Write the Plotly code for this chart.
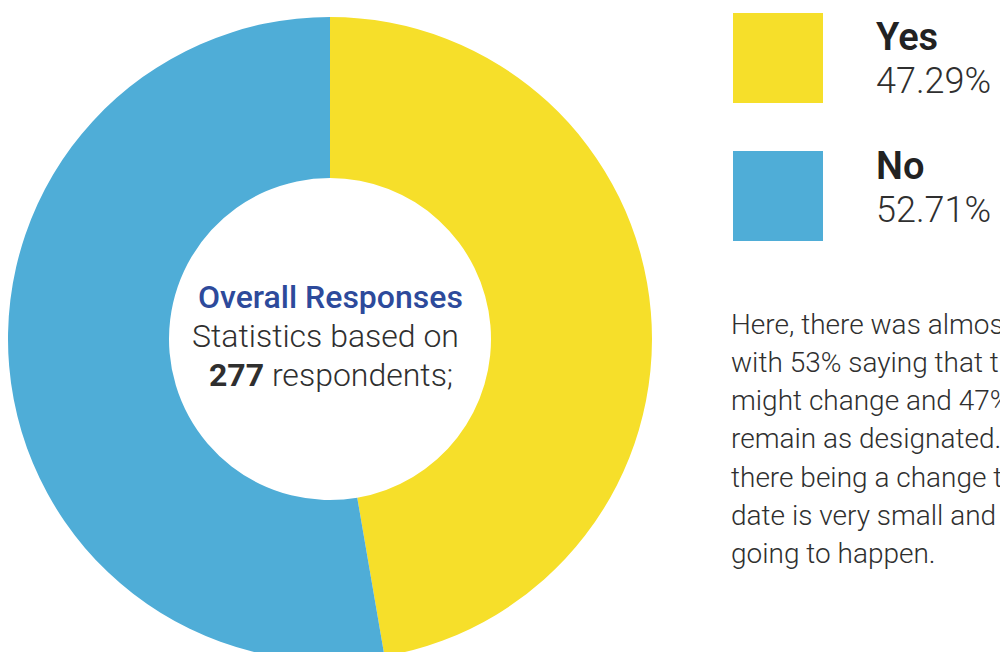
import plotly.graph_objects as go

# Survey answers
labels = ["Yes", "No"]
counts = [131, 146]
colors = ["#F6DF2A", "#4FADD7"]

center_title = "Overall Responses"
center_sub = "Statistics based on"
center_tail = "respondents;"

paragraph_lines = [
    "Here, there was almost an even split,",
    "with 53% saying that the current date",
    "might change and 47% saying it will",
    "remain as designated. The chance of",
    "there being a change to the current",
    "date is very small and it is unlikely",
    "going to happen.",
]

total = sum(counts)
shares = [c / total * 100 for c in counts]

W, H = 1000, 670
FONT = "Roboto"
TXT = "#2f2f2f"

fig = go.Figure()

fig.add_trace(go.Pie(
    labels=labels,
    values=counts,
    hole=0.5,
    sort=False,
    direction="clockwise",
    rotation=0,
    marker=dict(colors=colors, line=dict(color="white", width=0)),
    textinfo="none",
    hoverinfo="label+percent",
    showlegend=False,
    domain=dict(x=[8 / W, 652 / W], y=[1 - 661 / H, 1 - 17 / H]),
))

# invisible pixel-space axes for the side legend and text blocks
fig.add_trace(go.Scatter(x=[None], y=[None], showlegend=False, hoverinfo="skip"))
fig.update_xaxes(range=[0, W], visible=False, domain=[0, 1], fixedrange=True)
fig.update_yaxes(range=[H, 0], visible=False, domain=[0, 1], fixedrange=True)

annotations = []
shapes = []

# side legend: colour square, bold label, percentage
square_tops = [13, 151]
label_ys = [37, 166]
pct_ys = [81, 210]
for lab, col, pct, top, ly, py in zip(labels, colors, shares, square_tops, label_ys, pct_ys):
    shapes.append(dict(type="rect", xref="x", yref="y", x0=733, x1=823,
                       y0=top, y1=top + 90, fillcolor=col, line=dict(width=0)))
    annotations.append(dict(xref="x", yref="y", x=874, y=ly, text=lab,
                            showarrow=False, xanchor="left", yanchor="middle",
                            font=dict(family=FONT, size=38, color="#222222", weight=600)))
    annotations.append(dict(xref="x", yref="y", x=874, y=py, text=f"{pct:.2f}%",
                            showarrow=False, xanchor="left", yanchor="middle",
                            font=dict(family=FONT, size=36, color=TXT, weight=300)))

# centre of the donut
annotations.append(dict(xref="x", yref="y", x=330, y=297, text=center_title,
                        showarrow=False, xanchor="center", yanchor="middle",
                        font=dict(family=FONT, size=32, color="#2D4A9B", weight=500)))
annotations.append(dict(xref="x", yref="y", x=325, y=336, text=center_sub,
                        showarrow=False, xanchor="center", yanchor="middle",
                        font=dict(family=FONT, size=32, color=TXT, weight=300)))
annotations.append(dict(xref="x", yref="y", x=331, y=375,
                        text=f"<b>{total}</b> {center_tail}",
                        showarrow=False, xanchor="center", yanchor="middle",
                        font=dict(family=FONT, size=32, color=TXT, weight=300)))

# explanatory paragraph
for i, line in enumerate(paragraph_lines):
    annotations.append(dict(xref="x", yref="y", x=729, y=324 + i * 38.3, text=line,
                            showarrow=False, xanchor="left", yanchor="middle",
                            font=dict(family=FONT, size=28, color=TXT, weight=300)))

fig.update_layout(
    width=W, height=H,
    margin=dict(l=0, r=0, t=0, b=0),
    paper_bgcolor="white", plot_bgcolor="white",
    shapes=shapes, annotations=annotations,
)

fig.write_html(
    "out.html",
    post_script="document.body.style.margin='0';document.body.style.overflow='hidden';"
                "document.documentElement.style.overflow='hidden';",
)
